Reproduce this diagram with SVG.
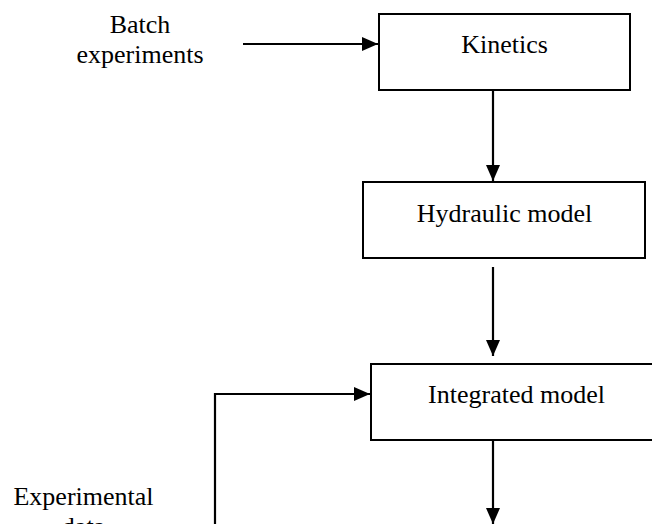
<svg xmlns="http://www.w3.org/2000/svg" width="652" height="524" viewBox="0 0 652 524">
<style>
.box{fill:#fff;stroke:#000;stroke-width:2}
.t{font-family:"Liberation Serif","Times New Roman",serif;font-size:26px;fill:#000}
.c{fill:none;stroke:#000;stroke-width:2.2}
</style>
<defs>
<marker id="ah" markerUnits="userSpaceOnUse" markerWidth="16" markerHeight="14" refX="16" refY="7" orient="auto">
<path d="M0,0 L16,7 L0,14 Z" fill="#000"/>
</marker>
</defs>
<rect width="652" height="524" fill="#fff"/>
<g id="batch">
<text class="t" x="140" y="33" text-anchor="middle">Batch</text>
<text class="t" x="140" y="63" text-anchor="middle">experiments</text>
</g>
<g id="kinetics">
<rect class="box" x="379" y="14" width="251" height="76"/>
<text class="t" x="504.5" y="53" text-anchor="middle">Kinetics</text>
</g>
<g id="hydraulic">
<rect class="box" x="363" y="182" width="282" height="76"/>
<text class="t" x="504.5" y="222" text-anchor="middle">Hydraulic model</text>
</g>
<g id="integrated">
<rect class="box" x="371" y="364" width="291" height="76"/>
<text class="t" x="516.5" y="403" text-anchor="middle">Integrated model</text>
</g>
<g id="experimental">
<text class="t" x="83.5" y="505" text-anchor="middle">Experimental</text>
<text class="t" x="83.5" y="535" text-anchor="middle">data</text>
</g>
<g id="connectors">
<path class="c" d="M243,44 H378" marker-end="url(#ah)"/>
<path class="c" d="M493,90 V181" marker-end="url(#ah)"/>
<path class="c" d="M493,267 V356" marker-end="url(#ah)"/>
<path class="c" d="M215,530 V394 H370" marker-end="url(#ah)"/>
<path class="c" d="M493,440 V524" marker-end="url(#ah)"/>
</g>
</svg>
